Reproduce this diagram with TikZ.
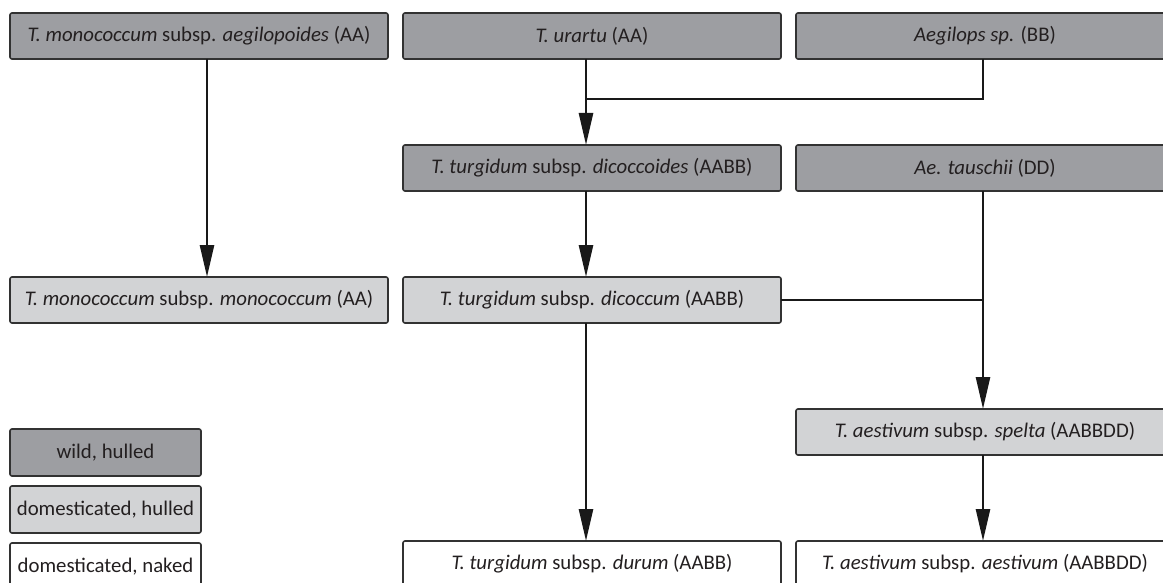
\documentclass[tikz,border=0pt]{standalone}
\usepackage{fontspec}
\setmainfont{Carlito}
\usetikzlibrary{arrows.meta,positioning}
\definecolor{sauvC}{RGB}{157,158,162}
\definecolor{domC}{RGB}{210,211,213}
\definecolor{traitC}{RGB}{50,50,50}
\definecolor{texteC}{RGB}{35,31,32}
\tikzset{
  espece/.style={rectangle, rounded corners=1pt, draw=traitC, line width=0.8pt, fill=#1,
                 text=texteC, minimum width=189pt, minimum height=23pt, inner sep=0pt,
                 outer sep=0pt, font=\fontsize{10.4}{12}\selectfont},
  legende/.style={espece=#1, minimum width=95.5pt, minimum height=23.5pt},
  arr/.style={-{Triangle[length=16pt,width=7pt]}, line width=1.3pt, draw=black!90},
  lien/.style={line width=1.3pt, draw=black!90},
}

\begin{document}
\begin{tikzpicture}[x=0.5pt, y=-0.5pt, node distance=43pt and 7.5pt]
        \useasboundingbox (0,0) rectangle (1163,583);
        \node[espece=sauvC] (aegi) at (199,36) {\textit{T. monococcum} subsp. \textit{aegilopoides} (AA)};
        \node[espece=sauvC, right=of aegi] (urar) {\textit{T. urartu} (AA)};
        \node[espece=sauvC, right=of urar] (aegs) {\textit{Aegilops sp.} (BB)};
        \node[espece=sauvC, below=of urar] (dicd) {\textit{T. turgidum} subsp. \textit{dicoccoides} (AABB)};
        \node[espece=sauvC, below=of aegs] (taus) {\textit{Ae. tauschii} (DD)};
        \node[espece=domC, below=of dicd] (dicm) {\textit{T. turgidum} subsp. \textit{dicoccum} (AABB)};
        \node[espece=domC, left=of dicm] (mono) {\textit{T. monococcum} subsp. \textit{monococcum} (AA)};
        \node[espece=domC, below=109pt of taus] (spel) {\textit{T. aestivum} subsp. \textit{spelta} (AABBDD)};
        \node[espece=white, below=of spel] (aest) {\textit{T. aestivum} subsp. \textit{aestivum} (AABBDD)};
        \node[espece=white, left=of aest] (duru) {\textit{T. turgidum} subsp. \textit{durum} (AABB)};
        % legende
        \node[legende=white, anchor=north west] (lnu) at (10,543) {domesticated, naked};
        \node[legende=domC, above=5pt of lnu] (lhu) {domesticated, hulled};
        \node[legende=sauvC, above=5pt of lhu] (lwi) {wild, hulled};
        % fleches
        \coordinate (colA) at (207,0);
        \coordinate (colB) at (586,0);
        \coordinate (colC) at (983,0);
        \coordinate (jonc) at (586,99);
        \draw[arr] (aegi.south -| colA) -- (mono.north -| colA);
        \draw[arr] (urar.south -| colB) -- (dicd.north -| colB);
        \draw[lien] (aegs.south -| colC) |- (jonc);
        \draw[arr] (dicd.south -| colB) -- (dicm.north -| colB);
        \draw[arr] (dicm.south -| colB) -- (duru.north -| colB);
        \draw[arr] (taus.south -| colC) -- (spel.north -| colC);
        \draw[lien] (dicm.east) -- (dicm.east -| colC);
        \draw[arr] (spel.south -| colC) -- (aest.north -| colC);
\end{tikzpicture}
\end{document}
